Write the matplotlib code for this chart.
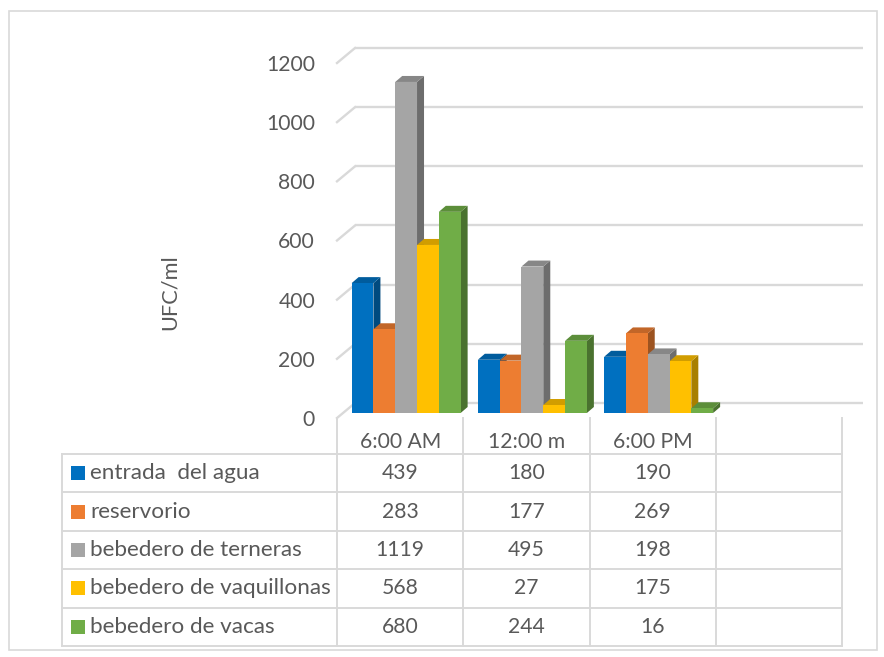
import matplotlib
matplotlib.use("Agg")
import matplotlib.pyplot as plt
from matplotlib.patches import Polygon, Rectangle
from matplotlib.colors import to_rgb
import numpy as np

plt.rcParams['font.family'] = ['Lato', 'DejaVu Sans']

# ---------------- data ----------------
categories = ["6:00 AM", "12:00 m", "6:00 PM", ""]
series_names = ["entrada  del agua", "reservorio", "bebedero de terneras",
                "bebedero de vaquillonas", "bebedero de vacas"]
entrada = [439, 180, 190]
reservorio = [283, 177, 269]
terneras = [1119, 495, 198]
vaquillonas = [568, 27, 175]
vacas = [680, 244, 16]
series_values = [entrada, reservorio, terneras, vaquillonas, vacas]
colors = ["#0070C0", "#ED7D31", "#A5A5A5", "#FFC000", "#70AD47"]
yticks = [0, 200, 400, 600, 800, 1000, 1200]
ylabel = "UFC/ml"

# ---------------- geometry (pixels) ----------------
W, H = 884, 657
DPI = 100
def fx(px): return px / W
def fy(py): return 1 - py / H

ncat = len(categories)
cat_px = 126.25
plot_h = 355.0
bar_left, bar_bottom = 343, 413          # bar plane origin
front_left, front_bottom = 337, 418      # floor front plane origin
TXT = "#595959"
GRID = "#D9D9D9"
FS = 15.2
FS_NAME = 16.2

fig = plt.figure(figsize=(W / DPI, H / DPI), dpi=DPI)
fig.patch.set_facecolor("white")

# overlay axes in pixel coordinates for decorations / table
ov = fig.add_axes([0, 0, 1, 1])
ov.set_xlim(0, W)
ov.set_ylim(H, 0)
ov.axis("off")
ov.add_patch(Rectangle((9, 11), 868, 639, fill=False, ec=GRID, lw=1.2))

# bar plane axes
ax = fig.add_axes([fx(bar_left), fy(bar_bottom), ncat * cat_px / W, plot_h / H])
ax.set_xlim(0, ncat)
ax.set_ylim(0, yticks[-1])
ax.axis("off")
ax.patch.set_alpha(0)

pxx = cat_px               # pixels per x data unit
pxy = plot_h / yticks[-1]  # pixels per y data unit

# back wall gridlines with left diagonals
bdx, bdy = 12 / pxx, 10 / pxy      # back plane offset from bar plane
fdx, fdy = -6 / pxx, -5 / pxy      # front plane offset from bar plane
xr = (863 - bar_left) / pxx
for v in yticks:
    ax.plot([bdx, xr], [v + bdy, v + bdy], color=GRID, lw=1.7, clip_on=False, zorder=1,
            solid_capstyle="butt")
    ax.plot([fdx, bdx], [v + fdy, v + bdy], color=GRID, lw=1.7, clip_on=False, zorder=1)

# front axes for tick labels
axf = fig.add_axes([fx(front_left), fy(front_bottom), ncat * cat_px / W, plot_h / H])
axf.set_xlim(0, ncat)
axf.set_ylim(0, yticks[-1])
axf.patch.set_alpha(0)
for s in axf.spines.values():
    s.set_visible(False)
axf.set_xticks([])
axf.set_yticks(yticks)
axf.set_yticklabels([str(t) for t in yticks], fontsize=FS, color=TXT)
axf.tick_params(axis="y", length=0, pad=(front_left - 315) * 0.72)

# 3D-like bars
nser = len(series_values)
bw = 21.8 / pxx
ddx, ddy = 7 / pxx, 6 / pxy

def shade(c, f):
    r, g, b = to_rgb(c)
    return (r * f, g * f, b * f)

z = 3
for ci in range(len(entrada)):
    for si in range(nser):
        h = series_values[si][ci]
        x0 = ci + 0.5 + (si - nser / 2) * bw
        x1 = x0 + bw
        c = colors[si]
        side = Polygon([(x1, 0), (x1 + ddx, ddy), (x1 + ddx, h + ddy), (x1, h)],
                       closed=True, fc=shade(c, 0.66), ec="none", zorder=z, clip_on=False)
        top = Polygon([(x0, h), (x0 + ddx, h + ddy), (x1 + ddx, h + ddy), (x1, h)],
                      closed=True, fc=shade(c, 0.82), ec="none", zorder=z, clip_on=False)
        ax.add_patch(side)
        ax.add_patch(top)
        ax.bar([x0], [h], width=bw, align="edge", color=c, zorder=z + 0.5, clip_on=False,
               linewidth=0)
        z += 1

# y label
fig.text(fx(170), fy(292), ylabel, rotation=90, ha="center", va="center",
         fontsize=FS + 0.5, color=TXT)

# ---------------- data table ----------------
col_x = [front_left + i * cat_px for i in range(ncat + 1)]
row_top = 454
row_h = 38.4
nrow = nser
tab_left = 62
lw_t = 1.4
# horizontal lines
for r in range(nrow + 1):
    y = row_top + r * row_h
    ov.plot([tab_left, col_x[-1]], [y, y], color=GRID, lw=lw_t, zorder=1)
# vertical lines
ov.plot([tab_left, tab_left], [row_top, row_top + nrow * row_h], color=GRID, lw=lw_t)
for x in col_x:
    ov.plot([x, x], [front_bottom, row_top + nrow * row_h], color=GRID, lw=lw_t)
# header
for i, cat in enumerate(categories):
    ov.text((col_x[i] + col_x[i + 1]) / 2, 442, cat, ha="center", va="center",
            fontsize=FS, color=TXT)
# rows
for r in range(nrow):
    yc = row_top + (r + 0.5) * row_h
    ov.add_patch(Rectangle((71, yc - 7), 14, 14, fc=colors[r], ec="none"))
    ov.text(90, yc, series_names[r], ha="left", va="center", fontsize=FS_NAME, color=TXT)
    for ci, v in enumerate(series_values[r]):
        ov.text((col_x[ci] + col_x[ci + 1]) / 2, yc, str(v), ha="center", va="center",
                fontsize=FS, color=TXT)

fig.savefig("out.png", dpi=DPI)
